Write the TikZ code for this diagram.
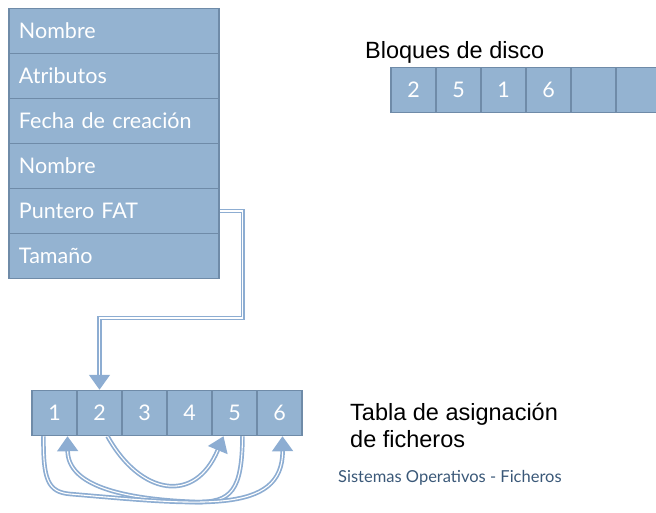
\documentclass[tikz,border=0pt]{standalone}
\usepackage{fontspec}
\setmainfont{Lato}
\newfontfamily\arialfont{Liberation Sans}
\usetikzlibrary{positioning,arrows.meta}
\definecolor{cellblue}{HTML}{94B3D1}
\definecolor{cellline}{HTML}{6F8BA8}
\definecolor{linkblue}{HTML}{8DADD2}
\definecolor{footgray}{HTML}{3A5878}

\begin{document}
\begin{tikzpicture}[x=1pt, y=-1pt, node distance={45pt},
    field/.style = {draw=cellline, line width=1.5pt, fill=cellblue, text=white, minimum height=45pt,
                    text width=190pt, inner xsep=10pt, align=left, font=\fontsize{21.5}{24}\selectfont},
    cell/.style = {draw=cellline, line width=1.5pt, fill=cellblue, text=white, minimum width=45pt,
                   minimum height=45pt, inner sep=0pt, font=\fontsize{21.5}{24}\selectfont},
    link/.style = {draw=linkblue, double=white, double distance=1.1pt, line width=1.7pt,
                   -{Triangle[width=21pt,length=15pt]}}]
  \useasboundingbox (0,0) rectangle (656,513);
  \clip (0,0) rectangle (656,513);

  % entrada de directorio
  \node[field] (nom) at (114,31) {Nombre};
  \node[field] (atr) [below of=nom] {Atributos};
  \node[field] (fec) [below of=atr] {Fecha de creación};
  \node[field] (nom2) [below of=fec] {Nombre};
  \node[field] (punt) [below of=nom2] {Puntero FAT};
  \node[field] (tam) [below of=punt] {Tamaño};

  % bloques de disco
  \node[anchor=base west, inner sep=0pt, font=\arialfont\fontsize{23.5}{26}\selectfont] (tbloq) at (365,59) {Bloques de disco};
  \node[cell] (b1) at (413.5,90) {2};
  \node[cell] (b2) [right of=b1] {5};
  \node[cell] (b3) [right of=b2] {1};
  \node[cell] (b4) [right of=b3] {6};
  \node[cell] (b5) [right of=b4] {};
  \node[cell] (b6) [right of=b5] {};

  % tabla FAT
  \node[cell] (f1) at (54.5,413) {1};
  \node[cell] (f2) [right of=f1] {2};
  \node[cell] (f3) [right of=f2] {3};
  \node[cell] (f4) [right of=f3] {4};
  \node[cell] (f5) [right of=f4] {5};
  \node[cell] (f6) [right of=f5] {6};
  \node[anchor=north west, inner sep=0pt, align=left, font=\arialfont\fontsize{23.5}{27}\selectfont] (tfat) at (350,403) {Tabla de asignación\\de ficheros};
  \node[anchor=base west, inner sep=0pt, text=footgray, font=\fontsize{16.5}{18}\selectfont] (pie) at (338,482) {Sistemas Operativos - Ficheros};

  % enlaces
  \draw[link] (punt.east) -- ++(23,0) -- ++(0,107) -| (f2.north);
  \draw[link] ([xshift=8pt]f2.south) .. controls (140,495) and (195,505) .. ([xshift=-11pt]f5.south);
  \draw[link] ([xshift=8pt]f5.south) .. controls (242,490) and (232,503) .. (195,502)
              .. controls (120,499) and (68,485) .. ([xshift=13pt]f1.south);
  \draw[link] ([xshift=-11pt]f1.south) .. controls (43,480) and (48,492) .. (70,494)
              .. controls (200,505) and (283,515) .. ([xshift=3pt]f6.south);
\end{tikzpicture}
\end{document}
